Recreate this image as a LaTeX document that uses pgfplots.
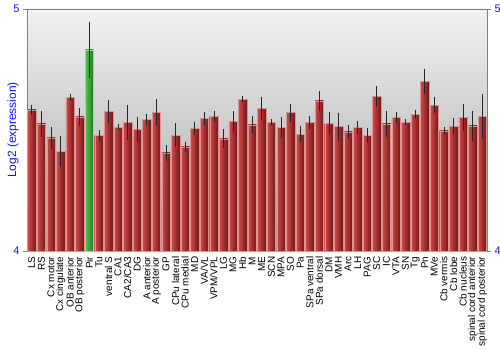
\documentclass[border=0pt]{standalone}
\usepackage{pgfplots}
\usepackage{pgfplotstable}
\pgfplotsset{compat=1.18}
\usepackage{fontspec}
\setmainfont{Liberation Sans}
\definecolor{barlight}{RGB}{205,75,75}
\definecolor{bardark}{RGB}{120,20,20}
\definecolor{grnlight}{RGB}{85,195,85}
\definecolor{grndark}{RGB}{30,120,30}
\definecolor{axblue}{RGB}{20,20,255}
\pgfplotstableread{
x y e
1 4.583 0.013
2 4.525 0.045
3 4.468 0.036
4 4.412 0.054
5 4.635 0.004
6 4.554 0.027
7 4.832 0.107
8 4.477 0.014
9 4.577 0.039
10 4.512 0.004
11 4.532 0.063
12 4.503 0.043
13 4.545 0.014
14 4.573 0.045
15 4.405 0.023
16 4.479 0.040
17 4.431 0.012
18 4.507 0.017
19 4.547 0.019
20 4.556 0.015
21 4.464 0.029
22 4.536 0.034
23 4.628 0.004
24 4.522 0.026
25 4.590 0.038
26 4.532 0.003
27 4.511 0.034
28 4.572 0.028
29 4.483 0.023
30 4.532 0.017
31 4.620 0.034
32 4.528 0.039
33 4.514 0.049
34 4.492 0.021
35 4.511 0.019
36 4.478 0.021
37 4.639 0.034
38 4.526 0.045
39 4.552 0.012
40 4.532 0.003
41 4.565 0.010
42 4.701 0.043
43 4.603 0.024
44 4.496 0.006
45 4.515 0.025
46 4.552 0.046
47 4.517 0.054
48 4.556 0.083
}\expr
\begin{document}
\begin{tikzpicture}
\useasboundingbox (-27bp,-99bp) rectangle (473bp,251bp);
\begin{axis}[
  at={(0,0)}, anchor=south west,
  scale only axis, width=460bp, height=242bp,
  xmin=0.5, xmax=48.5, ymin=4, ymax=5,
  ytick={4,5}, xtick={1,...,48},
  xticklabels={LS,RS,Cx motor,Cx cingulate,OB anterior,OB posterior,Pir,Tu,ventral S,CA1,CA2/CA3,DG,A anterior,A posterior,GP,CPu lateral,CPu medial,MD,VA/VL,VPM/VPL,LG,MG,Hb,M,ME,SCN,MPA,SO,Pa,SPa ventral,SPa dorsal,DM,VMH,Arc,LH,PAG,SC,IC,VTA,SN,Tg,Pn,MVe,Cb vermis,Cb lobe,Cb nucleus,spinal cord anterior,spinal cord posterior},
  x tick label style={rotate=90, anchor=east, font=\fontsize{10}{10}\selectfont, inner sep=1.5bp},
  xtick style={draw=none},
  y tick label style={font=\fontsize{11}{11}\selectfont, text=axblue},
  ylabel={Log2 (expression)},
  every axis y label/.style={at={([xshift=-14bp]rel axis cs:0,0.5)}, rotate=90, anchor=center, font=\fontsize{12}{12}\selectfont, text=axblue},
  /pgf/number format/assume math mode=true,
  ytick pos=left, tick align=outside, major tick length=4bp,
  ytick style={gray},
  separate axis lines,
  y axis line style={gray},
  x axis line style={draw=none},
  axis background/.style={shade, top color={rgb,255:red,242;green,242;blue,242}, bottom color={rgb,255:red,165;green,165;blue,165}},
  ybar, bar width=8.4bp, bar shift=0pt,
  clip=false,
  extra description/.code={\draw[gray] (rel axis cs:0,1) -- (rel axis cs:1,1);},
  error bars/error bar style={black!85, line width=0.7bp},
  error bars/error mark options={black!85, mark size=2.2bp, line width=0.7bp},
]
\pgfplotsinvokeforeach{1,...,6,8,9,...,48}{
\addplot[draw=barlight!60!white, line width=0.3bp, left color=barlight, right color=bardark,
  x filter/.expression={abs(x-#1)<0.1 ? x : nan},
  error bars/.cd, y dir=both, y explicit]
table[x=x, y=y, y error=e] {\expr};
}
\addplot[draw=grnlight!60!white, line width=0.3bp, left color=grnlight, right color=grndark,
  x filter/.expression={abs(x-7)<0.1 ? x : nan},
  error bars/.cd, y dir=both, y explicit]
table[x=x, y=y, y error=e] {\expr};
\end{axis}
\begin{axis}[
  at={(0,0)}, anchor=south west,
  scale only axis, width=460bp, height=242bp,
  xmin=0.5, xmax=48.5, ymin=4, ymax=5,
  ytick={4,5}, hide x axis,
  axis y line*=right,
  y axis line style={gray, -},
  ytick style={gray},
  tick align=outside, major tick length=4bp,
  y tick label style={font=\fontsize{11}{11}\selectfont, text=axblue},
  /pgf/number format/assume math mode=true,
]
\end{axis}
\end{tikzpicture}
\end{document}
